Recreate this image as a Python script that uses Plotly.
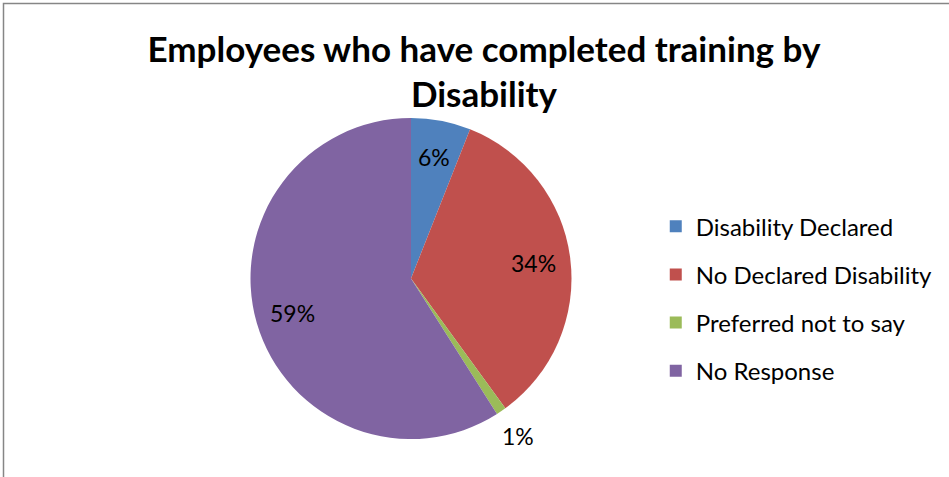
import math
import plotly.graph_objects as go

categories = ["Disability Declared", "No Declared Disability", "Preferred not to say", "No Response"]
values = [6, 34, 1, 59]
colors = ["#4F81BD", "#C0504D", "#9BBB59", "#8064A2"]
label_outside = [False, False, True, False]
title_text = "Employees who have completed training by<br>Disability"

W, H = 949, 477
cx, cy, r = 411, 278.5, 160.5

fig = go.Figure()
fig.add_trace(go.Pie(
    labels=categories, values=values, sort=False, direction="clockwise", rotation=0,
    marker=dict(colors=colors, line=dict(width=0)),
    textinfo="none", hoverinfo="label+percent",
    showlegend=False,
    domain=dict(x=[(cx - r) / W, (cx + r) / W], y=[(H - cy - r) / H, (H - cy + r) / H]),
))
for name, col in zip(categories, colors):
    fig.add_trace(go.Scatter(x=[None], y=[None], mode="markers", name=name,
                             legendgroup=name,
                             marker=dict(symbol="square", size=15, color=col)))

# percentage labels placed along each slice's mid-angle (derived from the values)
total = sum(values)
annotations = []
cum = 0
for v, out in zip(values, label_outside):
    mid = (cum + v / 2) / total * 2 * math.pi
    cum += v
    rr = r * (1.19 if out else 0.77)
    px = cx + rr * math.sin(mid)
    py = cy - rr * math.cos(mid)
    annotations.append(dict(text=f"{round(v / total * 100)}%", x=px / W, y=1 - py / H,
                            xref="paper", yref="paper", showarrow=False,
                            xanchor="center", yanchor="middle",
                            font=dict(family="Lato, sans-serif", size=23, color="#000000")))

fig.update_layout(
    width=W, height=H,
    margin=dict(l=0, r=0, t=0, b=0),
    paper_bgcolor="white", plot_bgcolor="white",
    xaxis=dict(visible=False), yaxis=dict(visible=False),
    annotations=annotations,
    title=dict(text="<b>" + title_text + "</b>", x=0.51, xanchor="center", y=0.871, yanchor="top",
               font=dict(family="Lato, sans-serif", size=35, color="#000000")),
    legend=dict(x=0.691, xanchor="left", y=0.374, yanchor="middle",
                font=dict(family="Lato, sans-serif", size=24, color="#000000"),
                tracegroupgap=14, itemsizing="constant", bgcolor="rgba(0,0,0,0)"),
    shapes=[dict(type="rect", xref="paper", yref="paper", x0=3.5 / W, x1=1.02, y0=-0.02, y1=1 - 3.5 / H,
                 line=dict(color="#868686", width=1.5), fillcolor="rgba(0,0,0,0)")],
)
fig.write_html("out.html", config={"displayModeBar": False},
               post_script="document.body.style.margin='0';document.body.style.padding='0';")
